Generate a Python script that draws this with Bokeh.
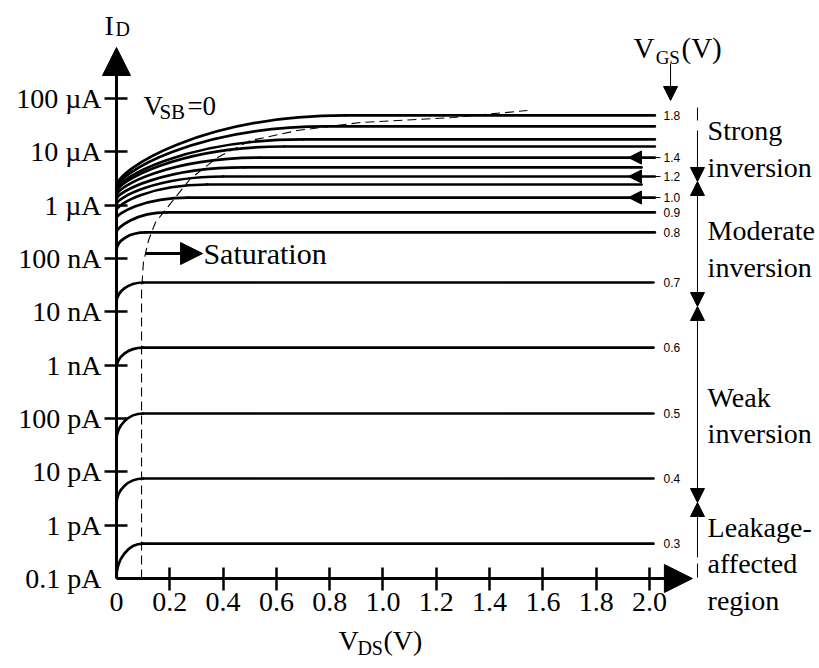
import numpy as np
from bokeh.plotting import figure
from bokeh.models import (Range1d, LinearAxis, LogAxis, FixedTicker, CustomJSTickFormatter,
                          Arrow, NormalHead, Label, ColumnDataSource)
from bokeh.embed import file_html
from bokeh.resources import INLINE
from bokeh.core.properties import value

# ---------------- data ----------------
vgs = [1.8, 1.7, 1.6, 1.5, 1.4, 1.3, 1.2, 1.1, 1.0, 0.9, 0.8, 0.7, 0.6, 0.5, 0.4, 0.3]
# saturation (flat) drain current, A
i_sat = [4.81e-5, 2.99e-5, 1.71e-5, 1.26e-5, 7.8e-6, 5.1e-6, 3.45e-6, 2.44e-6,
         1.39e-6, 7.3e-7, 3.08e-7, 3.55e-8, 2.14e-9, 1.24e-10, 7.5e-12, 4.5e-13]
# current where the curve leaves the I_D axis (V_DS ~ 0), A
i_start = [2.24e-6, 2.05e-6, 1.88e-6, 1.73e-6, 1.52e-6, 1.28e-6, 1.03e-6, 7.9e-7,
           5.6e-7, 3.08e-7, 1.41e-7, 1.5e-8, 8.7e-10, 3.9e-11, 2.5e-12, 1.05e-13]
# V_DS where each curve becomes flat, V
v_knee = [0.86, 0.79, 0.70, 0.63, 0.54, 0.48, 0.40, 0.34, 0.27, 0.19, 0.11,
          0.10, 0.10, 0.10, 0.10, 0.10]
# V_DS where each drawn curve ends, V
v_end = [2.02, 2.02, 2.02, 2.02, 2.02, 1.97, 2.02, 1.97, 2.02, 2.02, 2.02,
         2.015, 2.015, 2.015, 2.015, 2.015]

labelled_vgs = ["1.8", "1.4", "1.2", "1.0", "0.9", "0.8", "0.7", "0.6", "0.5", "0.4", "0.3"]
arrowed_vgs = ["1.4", "1.2", "1.0"]

# saturation boundary (dashed), V_DS vs I_D
sat_v = [0.094, 0.094, 0.101, 0.120, 0.146, 0.203, 0.278, 0.379, 0.503, 0.679, 0.916, 1.265, 1.542]
sat_i = [1e-13, 2.51e-8, 8.4e-8, 2.18e-7, 4.73e-7, 1.08e-6, 3.16e-6, 7.83e-6, 1.63e-5,
         2.51e-5, 3.55e-5, 4.41e-5, 5.96e-5]

# operating regions: boundaries of I_D (top -> bottom)
region_bounds = [2.51e-5, 2.78e-6, 1.26e-8, 2.66e-12, 2.48e-13]

x_ticks = [0, 0.2, 0.4, 0.6, 0.8, 1.0, 1.2, 1.4, 1.6, 1.8, 2.0]
x_tick_labels = ["0", "0.2", "0.4", "0.6", "0.8", "1.0", "1.2", "1.4", "1.6", "1.8", "2.0"]
y_ticks = [1e-13, 1e-12, 1e-11, 1e-10, 1e-9, 1e-8, 1e-7, 1e-6, 1e-5, 1e-4]
y_tick_labels = ["0.1 pA", "1 pA", "10 pA", "100 pA", "1 nA", "10 nA", "100 nA",
                 "1 \u00b5A", "10 \u00b5A", "100 \u00b5A"]

# ---------------- figure ----------------
SERIF = "Liberation Serif"
p = figure(width=819, height=668, output_backend="svg", toolbar_location=None,
           x_range=Range1d(-0.43527, 2.63790),
           y_range=Range1d(10 ** -14.6875, 10 ** -2.1625),
           y_axis_type="log", x_axis_location=None, y_axis_location=None,
           min_border=0, background_fill_color="white", border_fill_color="white")
p.outline_line_color = None
p.grid.visible = False

fmt_code = """
for (let i = 0; i < vals.length; i++) {
  if (tick === vals[i] || Math.abs(tick - vals[i]) <= 1e-6 * Math.abs(vals[i])) return labs[i];
}
return "";
"""


def style_axis(ax, show_ticks):
    ax.axis_line_color = None
    ax.minor_tick_line_color = None
    ax.major_tick_line_color = "black" if show_ticks else None
    ax.major_tick_line_width = 2.5
    ax.major_label_text_font = SERIF
    ax.major_label_text_font_size = "28px"
    ax.major_label_text_font_style = "normal"
    ax.major_label_text_color = "black"


fx = CustomJSTickFormatter(args=dict(vals=x_ticks, labs=x_tick_labels), code=fmt_code)
fy = CustomJSTickFormatter(args=dict(vals=y_ticks, labs=y_tick_labels), code=fmt_code)

xax = LinearAxis(fixed_location=y_ticks[0], ticker=FixedTicker(ticks=x_ticks[1:]), formatter=fx)
style_axis(xax, True)
xax.major_tick_in = 11
xax.major_tick_out = 12
xax.major_label_standoff = 2
p.add_layout(xax, "below")

xax0 = LinearAxis(fixed_location=y_ticks[0], ticker=FixedTicker(ticks=x_ticks[:1]), formatter=fx)
style_axis(xax0, False)
xax0.major_tick_in = 11
xax0.major_tick_out = 12
xax0.major_label_standoff = 2
p.add_layout(xax0, "below")

yax = LogAxis(fixed_location=x_ticks[0], ticker=FixedTicker(ticks=y_ticks[1:]), formatter=fy)
style_axis(yax, True)
yax.major_tick_in = 11
yax.major_tick_out = 12
yax.major_label_standoff = 3
p.add_layout(yax, "left")

yax0 = LogAxis(fixed_location=x_ticks[0], ticker=FixedTicker(ticks=y_ticks[:1]), formatter=fy)
style_axis(yax0, False)
yax0.major_tick_in = 11
yax0.major_tick_out = 12
yax0.major_label_standoff = 3
p.add_layout(yax0, "left")

# axis lines with arrow heads
p.add_layout(Arrow(x_start=x_ticks[0], y_start=y_ticks[0], x_end=x_ticks[0], y_end=9.04e-4,
                   line_width=3, line_color="black",
                   end=NormalHead(size=28, fill_color="black", line_color="black")))
p.add_layout(Arrow(x_start=x_ticks[0], y_start=y_ticks[0], x_end=2.161, y_end=y_ticks[0],
                   line_width=3, line_color="black",
                   end=NormalHead(size=28, fill_color="black", line_color="black")))

# ---------------- I-V curves ----------------
lg_s = np.log10(i_start)
lg_a = np.log10(i_sat)
vk = np.array(v_knee)
strong = np.array(vgs) >= 0.85
k1 = np.where(strong, 0.236, 0.552)
k2 = np.where(strong, 0.37, 0.448)

curves = ColumnDataSource(dict(
    x0=np.zeros(len(vgs)), y0=np.array(i_start),
    x1=vk, y1=np.array(i_sat),
    cx0=np.zeros(len(vgs)), cy0=10 ** (lg_s + k1 * (lg_a - lg_s)),
    cx1=k2 * vk, cy1=np.array(i_sat),
    xe=np.array(v_end),
))
p.bezier(x0="x0", y0="y0", x1="x1", y1="y1", cx0="cx0", cy0="cy0", cx1="cx1", cy1="cy1",
         source=curves, line_color="black", line_width=2.7, line_cap="round")
p.segment(x0="x1", y0="y1", x1="xe", y1="y1", source=curves,
          line_color="black", line_width=2.7, line_cap="round")

# saturation boundary
p.line(sat_v, sat_i, line_color="black", line_width=1.1, line_dash="9 5")

# V_GS value labels
lab_idx = [[f"{v:.1f}" for v in vgs].index(s) for s in labelled_vgs]
lab_src = ColumnDataSource(dict(
    x=[2.0525] * len(lab_idx),
    y=[i_sat[i] for i in lab_idx],
    t=labelled_vgs,
))
p.text(x="x", y="y", text="t", source=lab_src, text_font=value("Liberation Sans"),
       text_font_size="12px", text_baseline="middle", text_align="left", text_color="black")

for s in arrowed_vgs:
    i = [f"{v:.1f}" for v in vgs].index(s)
    p.add_layout(Arrow(x_start=2.041, y_start=i_sat[i], x_end=1.921, y_end=i_sat[i],
                       line_width=1, line_color="black",
                       end=NormalHead(size=13, fill_color="black", line_color="black")))

# ---------------- region markers ----------------
XR = 2.180
n_reg = len(region_bounds) - 1
for k in range(n_reg):
    start = NormalHead(size=14, fill_color="black", line_color="black") if k > 0 else None
    end = NormalHead(size=14, fill_color="black", line_color="black") if k < n_reg - 1 else None
    kw = {}
    if start is not None:
        kw["start"] = start
    kw["end"] = end
    p.add_layout(Arrow(x_start=XR, y_start=region_bounds[k], x_end=XR, y_end=region_bounds[k + 1],
                       line_width=1, line_color="black", **kw))
# short dashes above / below
p.segment(x0=[XR, XR], y0=[6.78e-5, 1.91e-13], x1=[XR, XR], y1=[3.87e-5, 1.04e-13],
          line_color="black", line_width=1)


def lab(x, y, text, size, font=SERIF, align="left"):
    p.add_layout(Label(x=x, y=y, text=text, text_font=font, text_font_size=size,
                       text_baseline="middle", text_align=align, text_color="black"))


XT = 2.218
lab(XT, 2.51e-5, "Strong", "28px")
lab(XT, 5.08e-6, "inversion", "28px")
lab(XT, 3.35e-7, "Moderate", "28px")
lab(XT, 6.78e-8, "inversion", "28px")
lab(XT, 2.48e-10, "Weak", "28px")
lab(XT, 5.24e-11, "inversion", "28px")
lab(XT, 9.04e-13, "Leakage-", "28px")
lab(XT, 1.91e-13, "affected", "28px")
lab(XT, 3.87e-14, "region", "28px")

# I_D axis title
lab(-0.045, 2.29e-3, "I", "28px")
lab(-0.0038, 1.97e-3, "D", "20px")
# V_SB = 0
lab(0.101, 7.08e-5, "V", "27px")
lab(0.161, 5.70e-5, "SB", "21px")
lab(0.266, 7.08e-5, "=0", "27px")
# V_GS (V)
lab(1.940, 8.85e-4, "V", "29px")
lab(2.023, 5.88e-4, "GS", "19px")
lab(2.120, 8.85e-4, "(V)", "29px")
p.add_layout(Arrow(x_start=2.079, y_start=4.53e-4, x_end=2.079, y_end=9.18e-5,
                   line_width=1, line_color="black",
                   end=NormalHead(size=14, fill_color="black", line_color="black")))
# V_DS (V)
lab(0.833, 6.88e-15, "V", "28px")
lab(0.904, 4.87e-15, "DS", "20px")
lab(1.002, 6.88e-15, "(V)", "28px")

# Saturation arrow + text
p.add_layout(Arrow(x_start=0.109, y_start=1.24e-7, x_end=0.323, y_end=1.24e-7,
                   line_width=3, line_color="black",
                   end=NormalHead(size=22, fill_color="black", line_color="black")))
lab(0.326, 1.24e-7, "Saturation", "30px")

open("out.html", "w").write(file_html(p, INLINE))
